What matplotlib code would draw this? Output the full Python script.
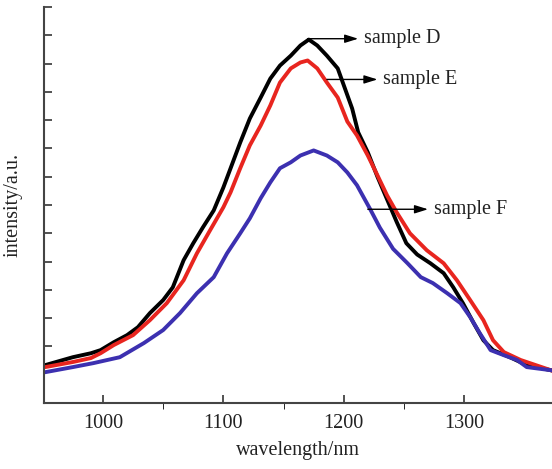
import matplotlib
matplotlib.use("Agg")
import matplotlib.pyplot as plt

# Spektry emisji, wartości (jednostki umowne)
wl_d = [952, 975, 990, 998, 1009, 1020, 1029, 1039, 1050, 1058, 1067, 1075, 1083,
        1092, 1100, 1106, 1114, 1122, 1131, 1139, 1147, 1156, 1164, 1171, 1178,
        1186, 1195, 1201, 1207, 1212, 1220, 1228, 1236, 1244, 1252, 1261, 1272,
        1283, 1291, 1299, 1308, 1316, 1324, 1338, 1352, 1372]
int_d = [1.34, 1.62, 1.76, 1.87, 2.15, 2.40, 2.68, 3.18, 3.64, 4.09, 5.05, 5.65, 6.21,
         6.81, 7.62, 8.30, 9.21, 10.06, 10.80, 11.47, 11.93, 12.28, 12.64, 12.85, 12.64,
         12.28, 11.83, 11.12, 10.41, 9.57, 8.86, 8.00, 7.20, 6.40, 5.65, 5.25, 4.94,
         4.59, 4.09, 3.53, 2.82, 2.22, 1.87, 1.62, 1.34, 1.16]

wl_e = [952, 975, 990, 998, 1009, 1025, 1039, 1053, 1067, 1078, 1089, 1100, 1106,
        1114, 1122, 1131, 1139, 1147, 1156, 1164, 1170, 1178, 1186, 1195, 1203,
        1211, 1220, 1228, 1236, 1244, 1255, 1269, 1283, 1294, 1305, 1316, 1324,
        1333, 1347, 1372]
int_e = [1.27, 1.45, 1.59, 1.76, 2.05, 2.40, 2.93, 3.53, 4.34, 5.29, 6.11, 6.92, 7.45,
         8.30, 9.11, 9.81, 10.52, 11.33, 11.83, 12.04, 12.11, 11.83, 11.33, 10.80, 9.95,
         9.46, 8.75, 8.05, 7.34, 6.74, 6.00, 5.40, 4.94, 4.34, 3.64, 2.93, 2.22,
         1.80, 1.52, 1.16]

wl_f = [952, 975, 992, 1014, 1034, 1050, 1064, 1078, 1092, 1103, 1114, 1122, 1131,
        1139, 1147, 1156, 1164, 1175, 1186, 1195, 1203, 1211, 1222, 1230,
        1241, 1253, 1264, 1274, 1286, 1297, 1305, 1313, 1322, 1333, 1344, 1352, 1372]
int_f = [1.09, 1.27, 1.41, 1.62, 2.12, 2.58, 3.18, 3.88, 4.45, 5.29, 6.00, 6.53, 7.24,
         7.80, 8.30, 8.51, 8.75, 8.93, 8.75, 8.51, 8.15, 7.70, 6.85, 6.20,
         5.45, 4.94, 4.45, 4.24, 3.88, 3.53, 3.04, 2.47, 1.87, 1.69, 1.52, 1.27, 1.16]

x_ticks = [1000, 1100, 1200, 1300]
x_minor = [1050, 1150, 1250]
y_ticks = list(range(2, 15))

# (początek strzałki, koniec strzałki, wysokość, podpis)
labels = [
    (1170, 1212, 12.88, "sample D"),
    (1186, 1228, 11.44, "sample E"),
    (1220, 1270, 6.85, "sample F"),
]

plt.rcParams["font.family"] = ["Liberation Serif", "DejaVu Serif"]

fig = plt.figure(figsize=(5.52, 4.69), dpi=100)
ax = fig.add_axes([0.0797, 0.1407, 0.9203, 0.8443])

ax.plot(wl_d, int_d, color="#000000", lw=2.8)
ax.plot(wl_e, int_e, color="#e8251f", lw=2.8)
ax.plot(wl_f, int_f, color="#3c30b0", lw=2.8)

for x0, x1, y, name in labels:
    ax.annotate("", xy=(x1, y), xytext=(x0, y),
                arrowprops=dict(arrowstyle="-|>,head_length=0.8,head_width=0.25",
                                color="black", lw=1.0, shrinkA=0, shrinkB=0))
    ax.text(x1 + 5, y, name, fontsize=14.5, va="center", ha="left", color="#222222")

ax.set_xlim(951, 1373)
ax.set_ylim(0, 14)
ax.set_xticks(x_ticks)
ax.set_xticks(x_minor, minor=True)
ax.set_yticks(y_ticks)
ax.set_yticklabels([])
ax.tick_params(axis="both", direction="in", color="#444444", width=1.3)
ax.tick_params(axis="x", which="major", length=6, labelsize=14.5, pad=8, labelcolor="#222222")
ax.tick_params(axis="x", which="minor", length=4)
ax.tick_params(axis="y", length=6)

for side in ["top", "right"]:
    ax.spines[side].set_visible(False)
for side in ["left", "bottom"]:
    ax.spines[side].set_linewidth(1.5)
    ax.spines[side].set_color("#444444")

ax.set_xlabel("wavelength/nm", fontsize=14.5, color="#222222", labelpad=6)
ax.set_ylabel("intensity/a.u.", fontsize=14.5, color="#222222", labelpad=12)

fig.savefig("out.png", dpi=100)
